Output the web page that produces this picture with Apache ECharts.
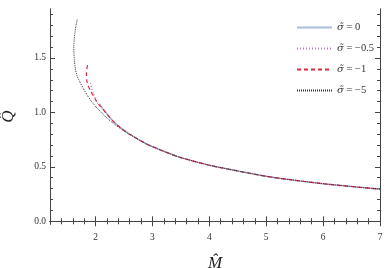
<!DOCTYPE html>
<html><head><meta charset="utf-8">
<script src="https://cdn.jsdelivr.net/npm/echarts@6/dist/echarts.min.js"></script>
<style>html,body{margin:0;padding:0;background:#fff}#c{width:390px;height:268px}</style>
</head><body><div id="c"></div>
<script>
// Data: [M, Q]
const seriesNames = ['σ̃ = 0', 'σ̃ = −0.5', 'σ̃ = −1', 'σ̃ = −5'];
const sigma0 = [[2.07,1.08],[2.12,1.04],[2.2,0.985],[2.3,0.925],[2.45,0.855],[2.6,0.80],[2.9,0.71],[3.3,0.622],[3.5,0.585],[4.0,0.515],[4.6,0.452],[5.0,0.413],[5.25,0.394],[6.0,0.345],[7.0,0.295]];
const sigmaM05 = [[1.91,1.27],[1.96,1.18],[2.02,1.10],[2.07,1.065],[2.12,1.04],[2.2,0.985],[2.3,0.925],[2.45,0.855],[2.6,0.80],[2.9,0.71],[3.3,0.622],[3.5,0.585],[4.0,0.515],[4.6,0.452],[5.0,0.413],[5.25,0.394],[6.0,0.345],[7.0,0.295]];
const sigmaM1 = [[1.86,1.434],[1.84,1.36],[1.845,1.30],[1.87,1.245],[1.91,1.20],[1.96,1.155],[2.02,1.10],[2.07,1.065],[2.12,1.04],[2.2,0.985],[2.3,0.925],[2.45,0.855],[2.6,0.80],[2.9,0.71],[3.3,0.622],[3.5,0.585],[4.0,0.515],[4.6,0.452],[5.0,0.413],[5.25,0.394],[6.0,0.345],[7.0,0.295]];
const sigmaM5 = [[1.677,1.853],[1.655,1.79],[1.635,1.72],[1.623,1.65],[1.619,1.60],[1.622,1.53],[1.632,1.46],[1.65,1.39],[1.68,1.33],[1.725,1.28],[1.78,1.225],[1.853,1.159],[1.93,1.10],[2.018,1.045],[2.12,0.99],[2.2,0.948],[2.3,0.905],[2.45,0.848],[2.6,0.798],[2.9,0.708],[3.3,0.622],[3.5,0.585],[4.0,0.515],[4.6,0.452],[5.0,0.413],[5.25,0.394],[6.0,0.345],[7.0,0.295]];
const xTicks = [2,3,4,5,6,7];
const xMinorTicks = [1.2,1.4,1.6,1.8,2.2,2.4,2.6,2.8,3.2,3.4,3.6,3.8,4.2,4.4,4.6,4.8,5.2,5.4,5.6,5.8,6.2,6.4,6.6,6.8];
const yTicks = [0,0.5,1.0,1.5];
const yMinorTicks = [0.1,0.2,0.3,0.4,0.6,0.7,0.8,0.9,1.1,1.2,1.3,1.4,1.6,1.7,1.8,1.9];
const yTickLabels = ['0.0','0.5','1.0','1.5'];

const serif = 'Liberation Serif';
const frame = '#444';
const X = {min:1.2, max:7}, Y = {min:-0.025, max:1.95};
function xAx(pos, vals, len, labels){
  return {type:'value', position:pos, min:X.min, max:X.max,
    axisLine:{show:true, lineStyle:{color:frame, width:1}},
    axisTick:{show:true, inside:true, length:len, customValues:vals, lineStyle:{color:frame}},
    axisLabel:{show:labels, customValues:vals, fontFamily:serif, fontSize:9.5, color:'#333', margin:8},
    splitLine:{show:false}};
}
function yAx(pos, vals, len, labels){
  return {type:'value', position:pos, min:Y.min, max:Y.max,
    axisLine:{show:true, lineStyle:{color:frame, width:1}},
    axisTick:{show:true, inside:true, length:len, customValues:vals, lineStyle:{color:frame}},
    axisLabel:{show:labels, customValues:vals, fontFamily:serif, fontSize:9.5, color:'#333', margin:4,
      formatter:v=>yTickLabels[yTicks.findIndex(t=>Math.abs(t-v)<1e-9)] ?? ''},
    splitLine:{show:false}};
}
const xAxes = [xAx('bottom', xTicks, 5, true), xAx('bottom', xMinorTicks, 3, false), xAx('top', xTicks, 5, false), xAx('top', xMinorTicks, 3, false)];
xAxes[0].name = 'M\u0302'; xAxes[0].nameLocation='middle'; xAxes[0].nameGap=31;
xAxes[0].nameTextStyle = {fontFamily:serif, fontStyle:'italic', fontSize:17, color:'#222'};
const yAxes = [yAx('left', yTicks, 5, true), yAx('left', yMinorTicks, 3, false), yAx('right', yTicks, 5, false), yAx('right', yMinorTicks, 3, false)];
yAxes[0].name = 'Q\u0302'; yAxes[0].nameLocation='middle'; yAxes[0].nameGap=33; yAxes[0].nameRotate=90;
yAxes[0].nameTextStyle = {fontFamily:serif, fontStyle:'italic', fontSize:17, color:'#222'};

const styles = [
  {color:'#a9bdd9', width:1.5, type:'solid'},
  {color:'#c27ac8', width:1.2, type:[1,2]},
  {color:'#d42a3c', width:1.2, type:[4,3]},
  {color:'#333333', width:1, type:[1,1]}
];
const datas = [sigma0, sigmaM05, sigmaM1, sigmaM5];
const series = datas.map((d,i)=>({
  name: seriesNames[i], type:'line', data:d, smooth:0.25, symbol:'none',
  xAxisIndex:0, yAxisIndex:0, lineStyle:styles[i], itemStyle:{color:styles[i].color}, z: 10+i
}));

const chart = echarts.init(document.getElementById('c'), null, {renderer:'canvas'});
chart.setOption({
  animation:false,
  grid:{left:50, right:10, top:9, bottom:44, containLabel:false, outerBoundsMode:'none'},
  xAxis:xAxes, yAxis:yAxes,
  legend:{orient:'vertical', left:291, top:17, itemWidth:35, itemHeight:12, itemGap:10,
    data:seriesNames, itemStyle:{opacity:0},
    formatter: n => '{i|σ̃}' + n.slice(2),
    textStyle:{fontFamily:serif, fontSize:10.5, color:'#333', rich:{i:{fontFamily:'DejaVu Serif', fontStyle:'italic', fontSize:10, color:'#333'}}}},
  series
});
</script></body></html>
